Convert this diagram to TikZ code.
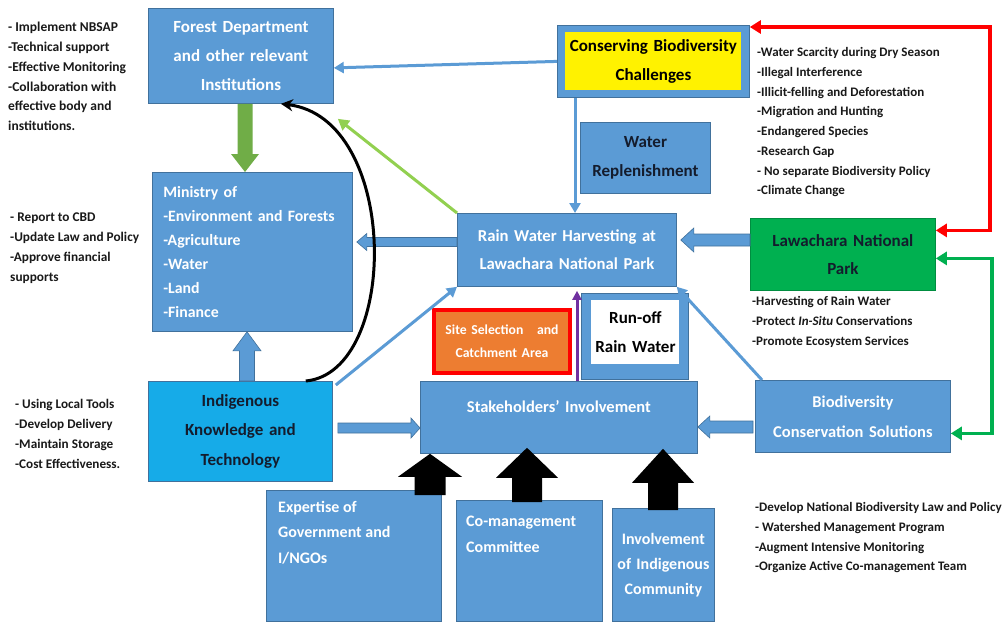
\documentclass[tikz,border=0pt]{standalone}
\usepackage{fontspec}
\setmainfont{Carlito}
\usetikzlibrary{arrows.meta,calc}

\definecolor{boxblue}{RGB}{91,155,213}
\definecolor{boxedge}{RGB}{65,113,156}
\definecolor{skyblue}{RGB}{22,171,232}
\definecolor{parkgreen}{RGB}{0,176,80}
\definecolor{leafgreen}{RGB}{112,173,71}
\definecolor{limegreen}{RGB}{146,208,80}
\definecolor{siteorange}{RGB}{237,125,49}
\definecolor{inkdark}{RGB}{20,28,45}
\definecolor{listink}{RGB}{25,25,25}
\definecolor{runoffpurple}{RGB}{112,48,160}

% block arrow: [style]{from}{to}{half shaft}{half head}{head length}
\newcommand\blockarrow[6][]{%
  \coordinate (ba-s) at (#2);
  \coordinate (ba-e) at (#3);
  \coordinate (ba-b) at ($(ba-e)!#6!(ba-s)$);
  \path[#1] ($(ba-s)!#4!90:(ba-e)$) -- ($(ba-b)!#4!90:(ba-e)$)
    -- ($(ba-b)!#5!90:(ba-e)$) -- (ba-e) -- ($(ba-b)!#5!-90:(ba-e)$)
    -- ($(ba-b)!#4!-90:(ba-e)$) -- ($(ba-s)!#4!-90:(ba-e)$) -- cycle;
}

\begin{document}
\begin{tikzpicture}[x=1pt,y=-1pt,
  box/.style={draw=boxedge,line width=0.8pt,fill=boxblue,inner sep=0pt,
    anchor=north west,align=center,text=white},
  bigtext/.style={font=\bfseries\fontsize{17}{29}\selectfont},
  midtext/.style={font=\bfseries\fontsize{16}{24}\selectfont},
  listtext/.style={font=\bfseries\fontsize{13}{19.7}\selectfont,text=listink,
    align=left,anchor=north west,inner sep=0pt},
  bline/.style={draw=boxblue,line width=3pt,-{Triangle[length=10pt,width=11pt]}},
  limeline/.style={draw=limegreen,line width=3pt,-{Triangle[length=11pt,width=12pt]}},
  redline/.style={draw=red,line width=3.5pt,{Triangle[length=11pt,width=13pt]}-{Triangle[length=11pt,width=13pt]}},
  greenline/.style={draw=parkgreen,line width=3.5pt,{Triangle[length=11pt,width=13pt]}-{Triangle[length=11pt,width=13pt]}},
  purpleline/.style={draw=runoffpurple,line width=3pt,-{Triangle[length=9pt,width=9pt]}},
  curvearrow/.style={draw=black,line width=3pt,-{Stealth[length=12pt,width=12pt]}},
  blueblock/.style={fill=boxblue,draw=boxedge,line width=0.6pt},
  greenblock/.style={fill=leafgreen},
  blackblock/.style={fill=black},
]
\fill[white] (0,0) rectangle (1003,621);
\useasboundingbox (0,0) rectangle (1003,621);

% ---------- boxes ----------
\node[box,bigtext,minimum width=185pt,minimum height=95pt,text width=180pt] (forest) at (148,8)
  {Forest Department\\and other relevant\\Institutions};
\node[box,minimum width=192pt,minimum height=72pt] (consouter) at (557,25) {};
\node[box,bigtext,draw=none,fill=yellow,text=black,minimum width=176pt,minimum height=58pt,text width=176pt] (conserving) at (565,32)
  {Conserving Biodiversity\\Challenges};
\node[box,bigtext,text=inkdark,minimum width=130pt,minimum height=71pt,text width=128pt] (water) at (580,122)
  {Water\\Replenishment};
\node[box,font=\bfseries\fontsize{15.8}{24}\selectfont,align=left,minimum width=200pt,minimum height=159pt,text width=178pt] (ministry) at (152,172)
  {Ministry of\\-Environment and Forests\\-Agriculture\\-Water\\-Land\\-Finance};
\node[box,font=\bfseries\fontsize{16.7}{28}\selectfont,minimum width=219pt,minimum height=73pt,text width=215pt] (rain) at (457,213)
  {Rain Water Harvesting at\\Lawachara National Park};
\node[box,font=\bfseries\fontsize{17}{28}\selectfont,fill=parkgreen,draw=parkgreen!80!black,text=inkdark,minimum width=185pt,minimum height=72pt,text width=180pt] (lawachara) at (750,218)
  {Lawachara National\\Park};
\node[box,font=\bfseries\fontsize{13.7}{23}\selectfont,fill=siteorange,draw=red,line width=4pt,minimum width=136pt,minimum height=63pt,text width=134pt] (site) at (432,308)
  {Site Selection\ \ \ and\\Catchment Area};
\node[box,minimum width=107pt,minimum height=86pt] (runoffbox) at (581,293) {};
\node[box,bigtext,draw=none,fill=white,text=black,minimum width=88pt,minimum height=64pt,text width=88pt] (runoff) at (591,300)
  {Run-off\\Rain Water};
\node[box,font=\bfseries\fontsize{17}{29.5}\selectfont,fill=skyblue,text=inkdark,minimum width=184pt,minimum height=100pt,text width=180pt] (indigenous) at (148,381)
  {Indigenous\\Knowledge and\\Technology};
\node[box,font=\bfseries\fontsize{16.5}{24}\selectfont,minimum width=277pt,minimum height=72pt,text width=270pt,text height=12pt,text depth=21.6pt] (stake) at (420,381)
  {Stakeholders’ Involvement};
\node[box,font=\bfseries\fontsize{16.5}{30}\selectfont,minimum width=195pt,minimum height=72pt,text width=190pt] (biodiversity) at (755,380)
  {Biodiversity\\Conservation Solutions};
\node[box,minimum width=175pt,minimum height=131pt] (expertise) at (266,490) {};
\node[text=white,align=left,anchor=north west,inner sep=0pt,font=\bfseries\fontsize{16}{25.5}\selectfont] (expertisetext)
  at ([shift={(12pt,-11pt)}]expertise.north west) {Expertise of\\Government and\\I/NGOs};
\node[box,minimum width=146pt,minimum height=121pt] (comgmt) at (456,500) {};
\node[text=white,align=left,anchor=north west,inner sep=0pt,font=\bfseries\fontsize{16}{26}\selectfont] (comgmttext)
  at ([shift={(10pt,-16pt)}]comgmt.north west) {Co-management\\Committee};
\node[box,font=\bfseries\fontsize{16}{25}\selectfont,minimum width=102pt,minimum height=113pt,text width=100pt] (involvement) at (612,508)
  {Involvement\\of Indigenous\\Community};

% ---------- side lists ----------
\node[listtext,font=\bfseries\fontsize{13.5}{19.8}\selectfont] (fdtasks) at (8,22)
  {- Implement NBSAP\\-Technical support\\-Effective Monitoring\\-Collaboration with\\effective body and\\institutions.};
\node[listtext,font=\bfseries\fontsize{13.3}{20}\selectfont] (mintasks) at (10,212.5)
  {- Report to CBD\\-Update Law and Policy\\-Approve financial\\supports};
\node[listtext,font=\bfseries\fontsize{13.2}{19.7}\selectfont] (iktasks) at (15,399.5)
  {- Using Local Tools\\-Develop Delivery\\-Maintain Storage\\-Cost Effectiveness.};
\node[listtext] (challenges) at (757,47.5)
  {-Water Scarcity during Dry Season\\-Illegal Interference\\-Illicit-felling and Deforestation\\-Migration and Hunting\\-Endangered Species\\-Research Gap\\- No separate Biodiversity Policy\\-Climate Change};
\node[listtext] (parkroles) at (752,296.5)
  {-Harvesting of Rain Water\\-Protect \textit{In-Situ} Conservations\\-Promote Ecosystem Services};
\node[listtext] (solutions) at (755,502.5)
  {-Develop National Biodiversity Law and Policy\\- Watershed Management Program\\-Augment Intensive Monitoring\\-Organize Active Co-management Team};

% ---------- guide lines for straight connectors ----------
\coordinate (gx1) at (245,0);
\coordinate (gx2) at (247,0);
\coordinate (gx3) at (430,0);
\coordinate (gx4) at (527,0);
\coordinate (gx5) at (663,0);
\coordinate (gx6) at (575,0);
\coordinate (gx7) at (577,0);
\coordinate (rx) at (990,0);
\coordinate (gx8) at (992,0);
\coordinate (gy1) at (0,242);
\coordinate (gy2) at (0,240);
\coordinate (gy3) at (0,428);
\coordinate (gy4) at (0,427);

% ---------- block arrows ----------
\blockarrow[greenblock]{gx1 |- forest.south}{gx1 |- ministry.north}{7.5pt}{14pt}{18pt}
\blockarrow[blueblock]{gx2 |- indigenous.north}{gx2 |- ministry.south}{7.5pt}{14pt}{19pt}
\blockarrow[blueblock]{rain.west |- gy1}{$(ministry.east |- gy1)+(4,0)$}{4.5pt}{8.5pt}{10pt}
\blockarrow[blueblock]{lawachara.west |- gy2}{$(rain.east |- gy2)+(4,0)$}{6pt}{12pt}{13pt}
\blockarrow[blueblock]{$(indigenous.east |- gy3)+(5,0)$}{stake.west |- gy3}{5pt}{10pt}{9pt}
\blockarrow[blueblock]{$(biodiversity.west |- gy4)+(-2,0)$}{stake.east |- gy4}{6pt}{11pt}{12pt}
\blockarrow[blackblock]{$(gx3 |- expertise.north)+(0,5)$}{gx3 |- stake.south}{15.5pt}{32pt}{23pt}
\blockarrow[blackblock]{$(gx4 |- comgmt.north)+(0,2)$}{$(gx4 |- stake.south)+(0,-6)$}{15pt}{31pt}{30pt}
\blockarrow[blackblock]{$(gx5 |- involvement.north)+(0,2)$}{$(gx5 |- stake.south)+(0,-5)$}{15pt}{31pt}{34pt}

% ---------- line connectors ----------
\draw[bline] (consouter.west) -- ([yshift=-12pt]forest.east);
\draw[bline] (gx6 |- consouter.south) -- (gx6 |- rain.north);
\draw[limeline] (rain.north west) -- ([shift={(4pt,-15pt)}]forest.south east);
\draw[bline] ([shift={(3pt,-4pt)}]indigenous.north east) -- (rain.south west);
\draw[bline] ([xshift=7pt]biodiversity.north west) -- (rain.south east);
\draw[purpleline] (gx7 |- stake.north) -- ($(gx7 |- rain.south)+(0,4)$);
\draw[redline] ([yshift=24pt]lawachara.east) -- ([yshift=24pt]lawachara.east -| rx)
  -- ([yshift=-2pt]consouter.north east -| rx) -- ([yshift=-2pt]consouter.north east);
\draw[greenline] ([yshift=-4pt]lawachara.east) -- ([yshift=-4pt]lawachara.east -| gx8)
  -- ([yshift=-17pt]biodiversity.east -| gx8) -- ([yshift=-17pt]biodiversity.east);
\draw[curvearrow] ([xshift=-27pt]indigenous.north east) .. controls (400,372) and (400,118) .. ([xshift=40pt]forest.south);
\end{tikzpicture}
\end{document}
